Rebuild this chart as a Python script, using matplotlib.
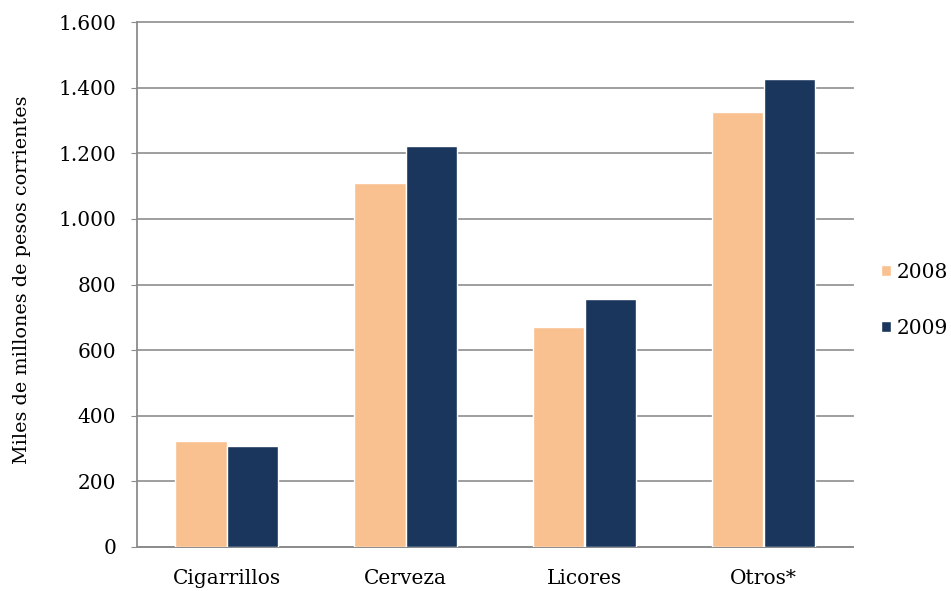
import matplotlib.pyplot as plt
import numpy as np
from matplotlib.ticker import FuncFormatter

categorias = ['Cigarrillos', 'Cerveza', 'Licores', 'Otros*']
valores_2008 = [322, 1110, 670, 1327]
valores_2009 = [309, 1222, 755, 1426]
anios = ['2008', '2009']

plt.rcParams['font.family'] = ['DejaVu Serif']

fig = plt.figure(figsize=(9.51, 5.91), dpi=100)
ax = fig.add_axes([137/951, 1 - 547/591, 716/951, 525/591])

x = np.arange(len(categorias))
w = 0.285
ax.bar(x - w/2, valores_2008, w, color='#F9C090', edgecolor='white', linewidth=1, label=anios[0], zorder=3)
ax.bar(x + w/2, valores_2009, w, color='#1A365D', edgecolor='white', linewidth=1, label=anios[1], zorder=3)

ax.set_xlim(-0.5, len(categorias) - 0.5)
ax.set_ylim(0, 1600)
ax.set_yticks(range(0, 1601, 200))
ax.yaxis.set_major_formatter(FuncFormatter(lambda v, p: f'{int(v):,}'.replace(',', '.')))
ax.set_xticks(x)
ax.set_xticklabels(categorias)

ax.grid(axis='y', color='#969696', linewidth=1.3, zorder=0)
for gl in ax.get_ygridlines():
    gl.set_clip_on(False)
for s in ['top', 'right']:
    ax.spines[s].set_visible(False)
for s in ['left', 'bottom']:
    ax.spines[s].set_color('#8c8c8c')
    ax.spines[s].set_linewidth(1.3)
ax.tick_params(axis='y', length=4, color='#8c8c8c', labelsize=14.5, pad=11)
ax.tick_params(axis='x', length=0, labelsize=14.5, pad=16)

ax.set_ylabel('Miles de millones de pesos corrientes', fontsize=13.8)
ax.yaxis.set_label_coords(-0.148, 0.51)

ax.legend(loc='center left', bbox_to_anchor=(1.028, 0.47), frameon=False, borderaxespad=0,
          fontsize=14.5, handlelength=0.5, handleheight=0.5, handletextpad=0.25,
          labelspacing=1.85)

fig.savefig('out.png', dpi=100)
